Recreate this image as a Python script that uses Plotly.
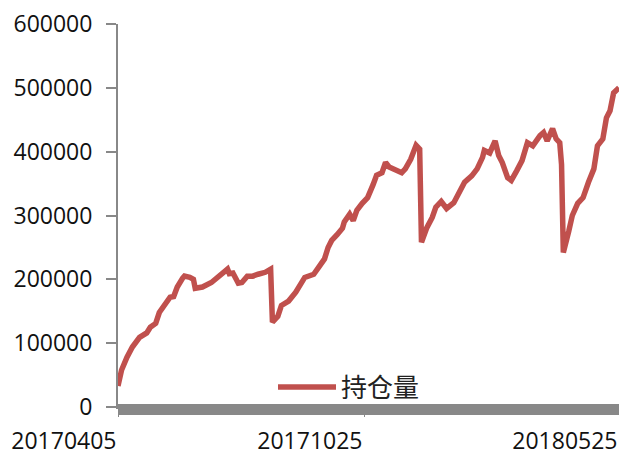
import pandas as pd
import plotly.graph_objects as go

dates = [
    "2017-04-05", "2017-04-07", "2017-04-12", "2017-04-17", "2017-04-21", "2017-04-27",
    "2017-05-02", "2017-05-05", "2017-05-09", "2017-05-12", "2017-05-17", "2017-05-19",
    "2017-05-23", "2017-05-26", "2017-05-31", "2017-06-05", "2017-06-07", "2017-06-08",
    "2017-06-14", "2017-06-21", "2017-06-27", "2017-06-29", "2017-07-04", "2017-07-05",
    "2017-07-07", "2017-07-12", "2017-07-14", "2017-07-19", "2017-07-24", "2017-07-27",
    "2017-08-02", "2017-08-07", "2017-08-08", "2017-08-11", "2017-08-15", "2017-08-21",
    "2017-08-25", "2017-09-01", "2017-09-08", "2017-09-13", "2017-09-18", "2017-09-20",
    "2017-09-22", "2017-09-27", "2017-10-09", "2017-10-10", "2017-10-13", "2017-10-17",
    "2017-10-19", "2017-10-24", "2017-10-27", "2017-11-01", "2017-11-03", "2017-11-08",
    "2017-11-10", "2017-11-14", "2017-11-20", "2017-11-23", "2017-11-27", "2017-11-30",
    "2017-12-05", "2017-12-07", "2017-12-08", "2017-12-13", "2017-12-18", "2017-12-20",
    "2017-12-25", "2017-12-28", "2018-01-04", "2018-01-09", "2018-01-12", "2018-01-18",
    "2018-01-23", "2018-01-26", "2018-01-29", "2018-02-01", "2018-02-06", "2018-02-08",
    "2018-02-12", "2018-02-22", "2018-02-26", "2018-03-01", "2018-03-06", "2018-03-09",
    "2018-03-14", "2018-03-20", "2018-03-22", "2018-03-26", "2018-03-29", "2018-04-02",
    "2018-04-04", "2018-04-09", "2018-04-10", "2018-04-13", "2018-04-17", "2018-04-20",
    "2018-04-25", "2018-05-02", "2018-05-07", "2018-05-09", "2018-05-14", "2018-05-16",
    "2018-05-18", "2018-05-22", "2018-05-25",
]
open_interest = [
    33000, 58000, 78000, 94000, 109000, 116000,
    125000, 131000, 148000, 159000, 172000, 173000,
    188000, 202000, 205000, 203000, 200000, 186000,
    188000, 195000, 205000, 209000, 216000, 209000,
    210000, 194000, 195000, 205000, 205000, 208000,
    211000, 216000, 133000, 142000, 159000, 166000,
    180000, 203000, 208000, 220000, 232000, 250000,
    261000, 270000, 280000, 290000, 302000, 292000,
    308000, 319000, 328000, 348000, 363000, 367000,
    383000, 376000, 372000, 367000, 373000, 388000,
    410000, 404000, 258000, 281000, 297000, 313000,
    322000, 311000, 320000, 334000, 352000, 362000,
    373000, 391000, 402000, 398000, 417000, 394000,
    383000, 359000, 355000, 370000, 386000, 414000,
    409000, 425000, 430000, 417000, 436000, 420000,
    414000, 380000, 242000, 275000, 300000, 319000,
    328000, 352000, 373000, 409000, 420000, 453000,
    464000, 492000, 500000,
]
series_name = "持仓量"
x_tick_dates = ["2017-04-05", "2017-10-25", "2018-05-25"]
y_ticks = [0, 100000, 200000, 300000, 400000, 500000, 600000]
holidays = [
    "2017-05-01", "2017-05-29", "2017-05-30",
    "2017-10-02", "2017-10-03", "2017-10-04", "2017-10-05", "2017-10-06",
    "2018-01-01", "2018-02-15", "2018-02-16", "2018-02-19", "2018-02-20", "2018-02-21",
    "2018-04-05", "2018-04-06", "2018-04-30", "2018-05-01",
]

# Category (trading-day) axis like the original: every trading day gets one slot
calendar = [d.strftime("%Y-%m-%d") for d in pd.bdate_range(dates[0], dates[-1])
            if d.strftime("%Y-%m-%d") not in holidays]
slot = {d: i for i, d in enumerate(calendar)}
x_pos = [slot[d] for d in dates]
tick_pos = [slot[d] for d in x_tick_dates]
tick_text = [d.replace("-", "") for d in x_tick_dates]

W, H = 619, 452
left, top, bottom = 118, 24, 45
plot_w = W - left
plot_h = H - top - bottom

fig = go.Figure()
fig.add_trace(go.Scatter(
    x=x_pos, y=open_interest, mode="lines", name=series_name,
    line=dict(color="#C0504D", width=5.5),
    text=dates,
))

axis_font = dict(family="Open Sans", size=23, color="#111111")

fig.update_layout(
    width=W, height=H,
    margin=dict(l=left, r=0, t=top, b=bottom, pad=0),
    paper_bgcolor="white", plot_bgcolor="white",
    showlegend=True,
    legend=dict(
        x=(273 - left) / plot_w, xanchor="left",
        y=20 / plot_h, yanchor="middle",
        bgcolor="rgba(0,0,0,0)",
        font=dict(family="Noto Sans CJK SC", size=26, color="#222222"),
        itemwidth=58,
    ),
    xaxis=dict(
        range=[0, len(calendar) - 1],
        tickvals=tick_pos,
        ticktext=tick_text,
        ticklabelposition="outside left",
        ticks="outside", ticklen=8, tickcolor="#888888",
        showline=True, linecolor="#888888", linewidth=2,
        showgrid=False, zeroline=False,
        tickfont=axis_font,
        ticklabelstandoff=12,
        automargin=False,
    ),
    yaxis=dict(
        range=[0, 600000],
        tickvals=y_ticks,
        tickformat="d",
        ticks="outside", ticklen=10, tickcolor="#888888", tickwidth=2,
        showline=True, linecolor="#888888", linewidth=2,
        showgrid=False, zeroline=False,
        tickfont=axis_font,
        ticklabelstandoff=9,
        automargin=False,
    ),
    shapes=[dict(
        type="rect", xref="paper", yref="paper",
        x0=0, x1=1, y0=-8 / plot_h, y1=3 / plot_h,
        fillcolor="#888888", line=dict(width=0), layer="above",
    )],
)

fig.write_html(
    "out.html",
    config={"displayModeBar": False},
    post_script="document.body.style.margin='0';document.body.style.overflow='hidden';",
)
